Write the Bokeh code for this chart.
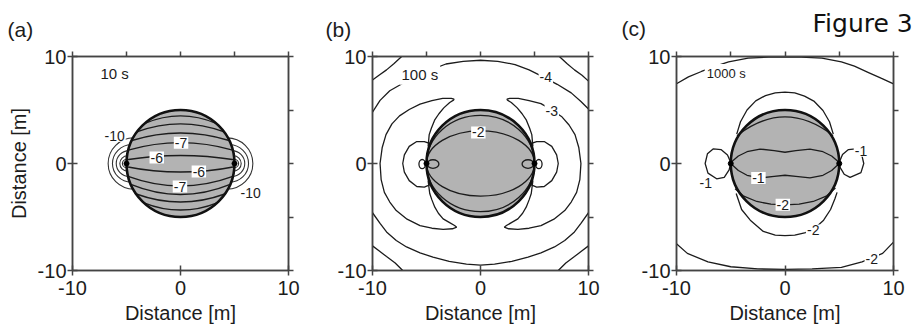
from bokeh.plotting import figure
from bokeh.models import Range1d, FixedTicker, Label, LinearAxis, CustomJSTickFormatter
from bokeh.core.properties import value
from bokeh.layouts import row, column
from bokeh.embed import file_html
from bokeh.resources import INLINE

# ---------------- data (metres) ----------------
MAJOR_TICKS = [-10, 0, 10]
MINOR_TICKS = [-10, -5, 0, 5, 10]
TICK_LABELS = {-10: "-10", 0: "0", 10: "10"}
DISK_R = 5.0
POLES_X = [-5.0, 5.0]
POLES_Y = [0.0, 0.0]

# panel (a): 10 s
A_RING_X = [-4.3, -4.55, -4.75, -4.9, -5.0, 4.3, 4.55, 4.75, 4.9, 5.0]
A_RING_D = [4.8, 3.5, 2.4, 1.44, 0.76, 4.8, 3.5, 2.4, 1.44, 0.76]
A_ARC_PEAK = [4.45, 3.7, 2.85, 1.95, 0.75, -0.8, -2.1, -2.9, -3.6, -4.35]
A_ARC_END_Y = [3.75, 2.95, 2.15, 1.25, 0.35, -0.3, -1.2, -1.95, -2.85, -3.65]
A_ARC_END_X = [3.3, 4.05, 4.5, 4.84, 4.99, 4.99, 4.85, 4.6, 4.1, 3.45]
A_LAB_TXT = ["-7", "-6", "-6", "-7", "-10", "-10"]
A_LAB_X = [0.05, -2.2, 1.7, -0.05, -6.1, 6.5]
A_LAB_Y = [1.95, 0.55, -0.75, -2.15, 2.6, -2.75]

# panel (b): 100 s
B_CORNER_TL_X = [-7.3, -8.0, -8.7, -9.4, -10.0]
B_CORNER_TL_Y = [10.0, 9.35, 8.75, 8.25, 7.8]
B_CORNER_TR_X = [7.3, 8.0, 8.7, 9.4, 10.0]
B_CORNER_TR_Y = [10.0, 9.35, 8.75, 8.25, 7.7]
B_CORNER_BL_X = [-7.2, -7.9, -8.7, -9.4, -10.0]
B_CORNER_BL_Y = [-10.0, -9.3, -8.7, -8.15, -7.7]
B_CORNER_BR_X = [7.2, 7.9, 8.7, 9.4, 10.0]
B_CORNER_BR_Y = [-10.0, -9.3, -8.7, -8.15, -7.7]

B_M4_TOP_X = [-10.0, -9.3, -8.4, -7.1, -5.8, -4.5, -3.2, -1.6, 0.0, 1.6, 3.2, 4.5, 5.8, 7.1, 8.4, 9.3, 10.0]
B_M4_TOP_Y = [4.8, 5.9, 6.8, 7.55, 8.2, 8.8, 9.3, 9.55, 9.65, 9.55, 9.25, 8.75, 8.1, 7.4, 6.6, 5.8, 5.1]
B_M4_BOT_X = [-10.0, -9.3, -8.7, -7.8, -6.85, -5.6, -4.4, -2.9, -1.3, 0.0, 1.3, 2.9, 4.4, 5.6, 6.85, 7.8, 8.7, 9.3, 10.0]
B_M4_BOT_Y = [-4.6, -5.6, -6.4, -7.2, -7.8, -8.35, -8.75, -9.15, -9.4, -9.5, -9.4, -9.15, -8.75, -8.35, -7.8, -7.2, -6.4, -5.6, -4.6]

B_CRES_L_X = [-4.85, -4.75, -4.55, -4.25, -3.85, -3.4, -2.85, -2.5, -2.45, -2.7, -3.5,
              -4.5, -5.6, -6.6, -7.5, -8.2, -8.75, -9.1, -9.3, -9.2, -8.9, -8.4, -7.8, -6.8,
              -5.6, -4.5, -3.46, -2.6, -2.2, -2.4, -2.9, -3.46, -3.9, -4.23, -4.5, -4.7, -4.85]
B_CRES_L_Y = [1.6, 2.7, 3.3, 4.05, 4.65, 5.2, 5.7, 5.92, 6.02, 6.08, 6.08,
              5.88, 5.55, 5.05, 4.45, 3.7, 2.7, 1.5, 0.0, -1.5, -2.7, -3.6, -4.4, -5.2,
              -5.8, -6.05, -6.15, -6.1, -5.95, -5.8, -5.5, -5.17, -4.65, -4.08, -3.4, -2.8, -1.6]
B_CRES_R_X = [4.85, 4.75, 4.55, 4.25, 3.85, 3.4, 2.85, 2.5, 2.45, 2.7, 3.5,
              4.5, 5.6, 6.6, 7.5, 8.2, 8.75, 9.1, 9.3, 9.2, 8.9, 8.4, 7.8, 6.8,
              5.6, 4.5, 3.46, 2.6, 2.2, 2.4, 2.9, 3.46, 3.9, 4.23, 4.5, 4.7, 4.85]
B_CRES_R_Y = [1.6, 2.7, 3.3, 4.05, 4.65, 5.2, 5.7, 5.92, 6.02, 6.08, 6.08,
              5.88, 5.6, 5.0, 4.4, 3.6, 2.7, 1.5, 0.0, -1.5, -2.7, -3.6, -4.4, -5.2,
              -5.8, -6.05, -6.15, -6.1, -5.95, -5.8, -5.5, -5.17, -4.65, -4.08, -3.4, -2.8, -1.6]

B_LOBE_L_X = [-4.65, -5.2, -5.9, -6.6, -7.05, -7.2, -7.05, -6.6, -5.9, -5.2, -4.6]
B_LOBE_L_Y = [1.85, 2.05, 2.05, 1.6, 0.8, 0.0, -0.8, -1.6, -2.15, -2.2, -1.95]
B_LOBE_R_X = [4.65, 5.2, 5.9, 6.6, 7.05, 7.2, 7.05, 6.6, 5.9, 5.2, 4.6]
B_LOBE_R_Y = [1.85, 2.05, 2.05, 1.6, 0.8, 0.0, -0.8, -1.6, -2.15, -2.2, -1.95]

B_LOOP_X = [-5.4, -4.4, 5.4, 4.4]
B_LOOP_Y = [-0.05, -0.05, -0.05, -0.05]
B_LOOP_W = [0.6, 1.1, 0.6, 1.1]
B_LOOP_H = [0.85, 0.8, 0.85, 0.8]
B_INNER_B = [3.05, 4.5]          # half-heights of the ellipses through the poles

B_LAB_TXT = ["-4", "-3", "-2"]
B_LAB_X = [6.05, 6.6, -0.2]
B_LAB_Y = [8.05, 4.9, 2.9]

# panel (c): 1000 s
C_TOP_X = [-10.0, -8.9, -7.7, -6.4, -5.2, -3.4, -1.5, 0.0, 1.5, 3.4, 5.2, 6.4, 7.7, 8.9, 10.0]
C_TOP_Y = [7.45, 8.1, 8.6, 9.1, 9.5, 9.85, 9.95, 9.97, 9.95, 9.85, 9.5, 9.1, 8.5, 7.95, 7.45]
C_BOT_X = [-10.0, -9.0, -7.1, -5.0, -2.5, 0.0, 2.5, 5.2, 7.1, 9.0, 10.0]
C_BOT_Y = [-7.5, -8.4, -9.2, -9.65, -9.85, -9.9, -9.85, -9.7, -9.2, -8.4, -7.35]
C_OVAL_TOP_X = [-4.45, -4.1, -3.5, -2.7, -1.8, -0.9, 0.0, 0.9, 1.8, 2.7, 3.5, 4.1, 4.45]
C_OVAL_TOP_Y = [2.75, 3.9, 5.0, 5.85, 6.35, 6.6, 6.68, 6.6, 6.3, 5.8, 4.95, 3.9, 2.75]
C_OVAL_BOT_X = [-4.5, -4.0, -3.2, -2.0, -0.9, 0.0, 0.9, 1.9, 2.8, 3.56, 4.2, 4.6, 4.8]
C_OVAL_BOT_Y = [-2.8, -4.3, -5.3, -6.35, -6.7, -6.75, -6.7, -6.45, -6.0, -5.3, -4.3, -3.3, -2.7]
C_ARC_TOP_X = [-4.43, 0.0, 4.43]
C_ARC_TOP_Y = [2.6, 4.35, 2.6]
C_WAVE_UP_X = [-5.0, -4.3, -3.5, -2.3, -1.0, 0.0, 1.0, 2.3, 3.5, 4.3, 5.0]
C_WAVE_UP_Y = [0.1, 0.7, 1.1, 1.35, 1.2, 1.05, 1.2, 1.35, 1.1, 0.7, 0.1]
C_WAVE_LO_X = [-5.0, -4.3, -3.5, -2.3, -1.0, 0.0, 1.0, 2.3, 3.5, 4.3, 5.0]
C_WAVE_LO_Y = [0.0, -0.65, -1.1, -1.35, -1.2, -1.1, -1.2, -1.35, -1.1, -0.65, 0.0]
C_ARC_BOT_X = [-4.6, -3.8, -2.6, -1.3, 0.0, 1.3, 2.6, 3.8, 4.65]
C_ARC_BOT_Y = [-2.35, -3.05, -3.55, -3.8, -3.87, -3.8, -3.55, -3.05, -2.3]
C_LOOP_L_X = [-5.0, -5.3, -5.9, -6.6, -7.15, -7.36, -7.1, -6.3, -5.6, -5.15, -5.0]
C_LOOP_L_Y = [0.1, 0.8, 1.3, 1.37, 0.9, 0.0, -0.9, -1.43, -1.3, -0.6, 0.05]
C_LOOP_R_X = [5.0, 5.3, 5.85, 6.5, 7.05, 7.26, 7.0, 6.0, 5.45, 5.1, 5.0]
C_LOOP_R_Y = [0.1, 0.85, 1.3, 1.37, 0.9, 0.0, -0.85, -1.3, -1.0, -0.4, 0.05]
C_LAB_TXT = ["-1", "-1", "-1", "-2", "-2", "-2"]
C_LAB_X = [-7.3, 7.0, -2.45, -0.2, 2.6, 8.0]
C_LAB_Y = [-1.85, 1.2, -1.35, -3.85, -6.25, -8.9]

TIMES = ["10 s", "100 s", "1000 s"]
TIME_X = [-7.6, -7.5, -7.4]
TIME_Y = [8.4, 8.35, 8.4]
PANEL_TAGS = ["(a)", "(b)", "(c)"]
FIG_TITLE = "Figure 3"

# ---------------- styling ----------------
FONT = "Liberation Sans"
INK = "#1c1c1c"
FRAME = "#444444"
DISK_FILL = "#b3b3b3"
LW = 1.3
HEAD_H = 44
TOTAL_W = 918


def make_fig(width, left, right, ylabel):
    p = figure(width=width, height=334 - HEAD_H, x_range=Range1d(-10, 10), y_range=Range1d(-10, 10),
               output_backend="svg", toolbar_location=None,
               min_border_left=left, min_border_right=right,
               min_border_top=56 - HEAD_H, min_border_bottom=64)
    p.grid.visible = False
    p.outline_line_color = FRAME
    p.outline_line_width = 1.5
    for ax in (p.xaxis[0], p.yaxis[0]):
        ax.ticker = FixedTicker(ticks=MAJOR_TICKS)
        ax.major_label_overrides = TICK_LABELS
        ax.major_tick_in = 5
        ax.major_tick_out = 5
        ax.minor_tick_line_color = None
        ax.axis_line_color = FRAME
        ax.axis_line_width = 1.5
        ax.major_tick_line_color = FRAME
        ax.major_tick_line_width = 1.5
        ax.major_label_text_font = FONT
        ax.major_label_text_font_size = "20px"
        ax.major_label_text_color = INK
        ax.axis_label_text_font = FONT
        ax.axis_label_text_font_size = "20px"
        ax.axis_label_text_font_style = "normal"
        ax.axis_label_text_color = INK
    p.xaxis.axis_label = "Distance [m]"
    p.xaxis.major_label_standoff = 5
    p.xaxis.axis_label_standoff = 4
    p.yaxis.major_label_standoff = 1
    if ylabel:
        p.yaxis.axis_label = "Distance [m]"
        p.yaxis.axis_label_standoff = 5
    for loc in ("above", "right"):
        ax = LinearAxis(ticker=FixedTicker(ticks=MINOR_TICKS),
                        formatter=CustomJSTickFormatter(code="return ''"),
                        major_tick_in=0, major_tick_out=5, minor_tick_line_color=None,
                        axis_line_color=FRAME, axis_line_width=1.5,
                        major_tick_line_color=FRAME, major_tick_line_width=1.5,
                        major_label_standoff=0, major_label_text_font_size="1px")
        p.add_layout(ax, loc)
    return p


def add_label(p, x, y, text, size="14px", bg=True):
    p.add_layout(Label(x=x, y=y, text=text, text_align="center", text_baseline="middle",
                       text_font=FONT, text_font_size=size, text_color=INK,
                       background_fill_color="white" if bg else None, padding=1))


def add_time(p, i):
    p.add_layout(Label(x=TIME_X[i], y=TIME_Y[i], text=TIMES[i], text_align="left",
                       text_baseline="alphabetic", text_font=FONT,
                       text_font_size="15px" if i < 2 else "13px", text_color=INK,
                       background_fill_color="white", padding=2))


def disk_fill(p):
    p.ellipse(x=[0], y=[0], width=[2 * DISK_R], height=[2 * DISK_R],
              fill_color=DISK_FILL, line_color=None)


def disk_edge(p):
    p.ellipse(x=[0], y=[0], width=[2 * DISK_R], height=[2 * DISK_R],
              fill_color=None, line_color="#111111", line_width=2.6)
    p.scatter(x=POLES_X, y=POLES_Y, size=5, color="#000000")


# ---------------- header strip with panel letters and figure title ----------------
head = figure(width=TOTAL_W, height=HEAD_H, x_range=Range1d(0, TOTAL_W), y_range=Range1d(HEAD_H, 0),
              output_backend="svg", toolbar_location=None, x_axis_location=None,
              y_axis_location=None, min_border=0)
head.grid.visible = False
head.outline_line_color = None
head.text(x=[7, 325, 621], y=[29, 29, 28], text=PANEL_TAGS, text_font=value(FONT),
          text_font_size="21px", text_color=INK, text_baseline="alphabetic", text_align="left")
head.text(x=[812], y=[23], text=[FIG_TITLE], text_font=value("DejaVu Sans"),
          text_font_size="25px", text_color="#111111", text_baseline="alphabetic", text_align="left")

# ---------------- panel (a) ----------------
pa = make_fig(300, 72, 12, True)
pa.ellipse(x=A_RING_X, y=[0] * len(A_RING_X), width=A_RING_D, height=A_RING_D,
           fill_color=None, line_color="#333333", line_width=1.1)
disk_fill(pa)
pa.quadratic(x0=[-v for v in A_ARC_END_X], y0=A_ARC_END_Y, x1=A_ARC_END_X, y1=A_ARC_END_Y,
             cx=[0.0] * len(A_ARC_PEAK),
             cy=[2 * h - e for h, e in zip(A_ARC_PEAK, A_ARC_END_Y)],
             line_color=INK, line_width=1.4)
disk_edge(pa)
for t, x, y in zip(A_LAB_TXT, A_LAB_X, A_LAB_Y):
    add_label(pa, x, y, t)
add_time(pa, 0)

# ---------------- panel (b) ----------------
pb = make_fig(308, 72, 20, False)
pb.multi_line(xs=[B_CORNER_TL_X, B_CORNER_TR_X, B_CORNER_BL_X, B_CORNER_BR_X,
                  B_M4_TOP_X, B_M4_BOT_X, B_CRES_L_X, B_CRES_R_X, B_LOBE_L_X, B_LOBE_R_X],
              ys=[B_CORNER_TL_Y, B_CORNER_TR_Y, B_CORNER_BL_Y, B_CORNER_BR_Y,
                  B_M4_TOP_Y, B_M4_BOT_Y, B_CRES_L_Y, B_CRES_R_Y, B_LOBE_L_Y, B_LOBE_R_Y],
              line_color=INK, line_width=LW)
disk_fill(pb)
pb.ellipse(x=[0, 0], y=[0, 0], width=[2 * DISK_R] * 2, height=[2 * b for b in B_INNER_B],
           fill_color=None, line_color=INK, line_width=LW)
pb.ellipse(x=B_LOOP_X, y=B_LOOP_Y, width=B_LOOP_W, height=B_LOOP_H,
           fill_color=None, line_color=INK, line_width=LW)
disk_edge(pb)
for t, x, y in zip(B_LAB_TXT, B_LAB_X, B_LAB_Y):
    add_label(pb, x, y, t)
add_time(pb, 1)

# ---------------- panel (c) ----------------
pc = make_fig(310, 68, 25, False)
pc.multi_line(xs=[C_TOP_X, C_BOT_X, C_OVAL_TOP_X, C_OVAL_BOT_X, C_LOOP_L_X, C_LOOP_R_X],
              ys=[C_TOP_Y, C_BOT_Y, C_OVAL_TOP_Y, C_OVAL_BOT_Y, C_LOOP_L_Y, C_LOOP_R_Y],
              line_color=INK, line_width=LW)
disk_fill(pc)
pc.quadratic(x0=[C_ARC_TOP_X[0]], y0=[C_ARC_TOP_Y[0]], x1=[C_ARC_TOP_X[2]], y1=[C_ARC_TOP_Y[2]],
             cx=[C_ARC_TOP_X[1]], cy=[2 * C_ARC_TOP_Y[1] - C_ARC_TOP_Y[0]],
             line_color=INK, line_width=LW)
pc.multi_line(xs=[C_WAVE_UP_X, C_WAVE_LO_X, C_ARC_BOT_X],
              ys=[C_WAVE_UP_Y, C_WAVE_LO_Y, C_ARC_BOT_Y],
              line_color=INK, line_width=LW)
disk_edge(pc)
for t, x, y in zip(C_LAB_TXT, C_LAB_X, C_LAB_Y):
    add_label(pc, x, y, t)
add_time(pc, 2)

layout = column(head, row(pa, pb, pc))
open("out.html", "w").write(file_html(layout, INLINE))
